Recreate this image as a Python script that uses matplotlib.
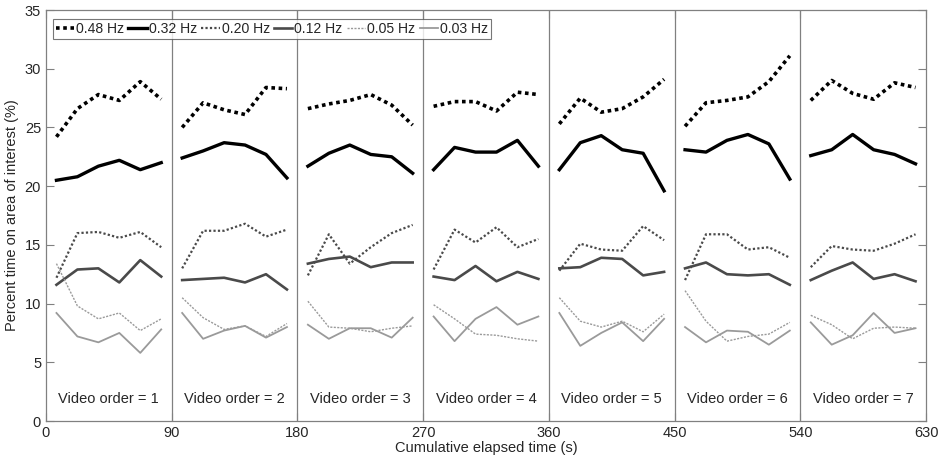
import numpy as np
import matplotlib
matplotlib.use("Agg")
import matplotlib.pyplot as plt

plt.rcParams.update({
    "font.family": ["Liberation Sans", "DejaVu Sans"],
    "font.size": 9,
    "text.color": "#262626",
    "axes.labelcolor": "#262626",
    "xtick.color": "#262626",
    "ytick.color": "#262626",
})

# ---- data (percent time on area of interest, 6 x 15-s bins per video) ----
video_len = 90
bin_centres = [7.5, 22.5, 37.5, 52.5, 67.5, 82.5]
video_orders = [1, 2, 3, 4, 5, 6, 7]

hz048 = [
    [24.2, 26.6, 27.8, 27.3, 28.9, 27.4],
    [25.0, 27.1, 26.5, 26.1, 28.4, 28.3],
    [26.6, 27.0, 27.3, 27.8, 26.9, 25.2],
    [26.8, 27.2, 27.2, 26.4, 28.0, 27.8],
    [25.3, 27.5, 26.3, 26.6, 27.6, 29.1],
    [25.1, 27.1, 27.3, 27.6, 28.9, 31.1],
    [27.3, 29.0, 27.9, 27.4, 28.8, 28.4],
]
hz032 = [
    [20.5, 20.8, 21.7, 22.2, 21.4, 22.0],
    [22.4, 23.0, 23.7, 23.5, 22.7, 20.7],
    [21.7, 22.8, 23.5, 22.7, 22.5, 21.1],
    [21.4, 23.3, 22.9, 22.9, 23.9, 21.7],
    [21.4, 23.7, 24.3, 23.1, 22.8, 19.6],
    [23.1, 22.9, 23.9, 24.4, 23.6, 20.6],
    [22.6, 23.1, 24.4, 23.1, 22.7, 21.9],
]
hz020 = [
    [12.2, 16.0, 16.1, 15.6, 16.1, 14.8],
    [13.0, 16.2, 16.2, 16.8, 15.7, 16.3],
    [12.4, 15.9, 13.4, 14.8, 16.0, 16.7],
    [12.9, 16.3, 15.2, 16.5, 14.8, 15.5],
    [12.8, 15.1, 14.6, 14.5, 16.6, 15.4],
    [12.0, 15.9, 15.9, 14.6, 14.8, 13.9],
    [13.1, 14.9, 14.6, 14.5, 15.1, 15.9],
]
hz012 = [
    [11.6, 12.9, 13.0, 11.8, 13.7, 12.3],
    [12.0, 12.1, 12.2, 11.8, 12.5, 11.2],
    [13.4, 13.8, 14.0, 13.1, 13.5, 13.5],
    [12.3, 12.0, 13.2, 11.9, 12.7, 12.1],
    [13.0, 13.1, 13.9, 13.8, 12.4, 12.7],
    [13.0, 13.5, 12.5, 12.4, 12.5, 11.6],
    [12.0, 12.8, 13.5, 12.1, 12.5, 11.9],
]
hz005 = [
    [13.4, 9.8, 8.7, 9.2, 7.7, 8.7],
    [10.5, 8.8, 7.8, 8.1, 7.2, 8.3],
    [10.2, 8.0, 7.9, 7.6, 7.9, 8.1],
    [9.9, 8.7, 7.4, 7.3, 7.0, 6.8],
    [10.5, 8.5, 8.0, 8.5, 7.6, 9.1],
    [11.1, 8.5, 6.8, 7.2, 7.4, 8.4],
    [9.0, 8.2, 7.0, 7.9, 8.0, 7.9],
]
hz003 = [
    [9.2, 7.2, 6.7, 7.5, 5.8, 7.8],
    [9.2, 7.0, 7.7, 8.1, 7.1, 8.0],
    [8.2, 7.0, 7.9, 7.9, 7.1, 8.8],
    [8.9, 6.8, 8.7, 9.7, 8.2, 8.9],
    [9.2, 6.4, 7.5, 8.4, 6.8, 8.7],
    [8.0, 6.7, 7.7, 7.6, 6.5, 7.7],
    [8.4, 6.5, 7.3, 9.2, 7.5, 7.9],
]

series = [
    ("0.48 Hz", hz048, dict(color="black", lw=2.6, ls=(0, (1, 1)))),
    ("0.32 Hz", hz032, dict(color="black", lw=2.4, ls="-")),
    ("0.20 Hz", hz020, dict(color="#4a4a4a", lw=1.6, ls=(0, (1, 1)))),
    ("0.12 Hz", hz012, dict(color="#4a4a4a", lw=1.9, ls="-")),
    ("0.05 Hz", hz005, dict(color="#9a9a9a", lw=1.0, ls=(0, (1.5, 1)))),
    ("0.03 Hz", hz003, dict(color="#9a9a9a", lw=1.3, ls="-")),
]


def split_by_video(values):
    # join the per-video segments with NaN so each video is drawn separately
    xs, ys = [], []
    for k, seg in enumerate(values):
        xs += [video_len * k + b for b in bin_centres] + [np.nan]
        ys += list(seg) + [np.nan]
    return np.array(xs), np.array(ys)


fig = plt.figure(figsize=(9.48, 4.63), dpi=100)
ax = fig.add_axes([0.0485, 0.0907, 0.9283, 0.8877])

for k in range(1, len(video_orders)):
    ax.axvline(video_len * k, color="#808080", lw=0.9, zorder=1)

for label, vals, style in series:
    x, y = split_by_video(vals)
    ax.plot(x, y, label=label, zorder=3, **style)

for k, v in enumerate(video_orders):
    ax.text(video_len * k + video_len / 2, 1.9, f"Video order = {v}",
            ha="center", va="center", fontsize=10.5)

ax.set_xlim(0, video_len * len(video_orders))
ax.set_ylim(0, 35)
ax.set_xticks(np.arange(0, video_len * len(video_orders) + 1, video_len))
ax.set_yticks(np.arange(0, 36, 5))
ax.tick_params(direction="in", length=6, width=0.8, color="#808080",
               top=True, right=True, labelsize=10.5)
for s in ax.spines.values():
    s.set_color("#808080")
    s.set_linewidth(0.9)

ax.set_xlabel("Cumulative elapsed time (s)", fontsize=10.5, labelpad=1)
ax.set_ylabel("Percent time on area of interest (%)", fontsize=10.5, labelpad=4)

leg = ax.legend(loc="upper left", bbox_to_anchor=(0.008, 0.978), ncol=6,
                fontsize=10.1, frameon=True, fancybox=False, handlelength=1.3,
                handletextpad=0.15, columnspacing=0.3, borderpad=0.2,
                borderaxespad=0)
leg.get_frame().set_edgecolor("#555555")
leg.get_frame().set_linewidth(0.8)

fig.savefig("out.png", dpi=100)
